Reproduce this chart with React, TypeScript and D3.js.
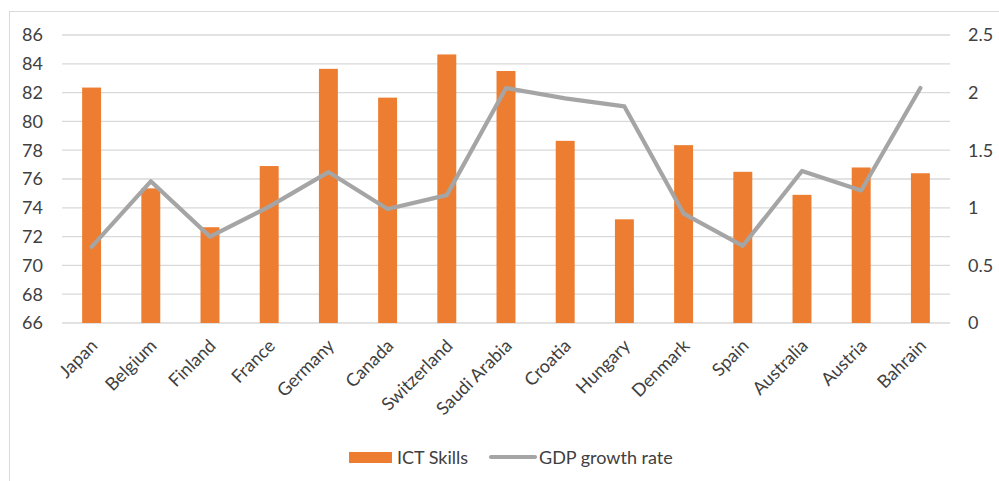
import React from "react";
import * as d3 from "d3";

const categories = ["Japan", "Belgium", "Finland", "France", "Germany", "Canada", "Switzerland", "Saudi Arabia", "Croatia", "Hungary", "Denmark", "Spain", "Australia", "Austria", "Bahrain"];
const ictSkills = [82.35, 75.35, 72.65, 76.9, 83.65, 81.65, 84.65, 83.5, 78.65, 73.2, 78.35, 76.5, 74.9, 76.8, 76.4];
const gdpGrowth = [0.66, 1.23, 0.75, 1.01, 1.31, 0.99, 1.11, 2.04, 1.95, 1.88, 0.95, 0.67, 1.32, 1.15, 2.04];
const leftTicks = [66, 68, 70, 72, 74, 76, 78, 80, 82, 84, 86];
const rightTicks = [0, 0.5, 1, 1.5, 2, 2.5];

const W = 999, H = 481;
const plot = { left: 62, right: 950, top: 35, bottom: 323 };
const FONT = "Lato, 'Open Sans', sans-serif";
const TEXT = "#404040";

export default function App() {
  const x = d3.scaleBand<string>().domain(categories).range([plot.left, plot.right]).paddingInner(0.68).paddingOuter(0.34);
  const yL = d3.scaleLinear().domain([66, 86]).range([plot.bottom, plot.top]);
  const yR = d3.scaleLinear().domain([0, 2.5]).range([plot.bottom, plot.top]);
  const cx = (c: string) => (x(c) as number) + x.bandwidth() / 2;
  const line = d3.line<number>().x((_, i) => cx(categories[i])).y((d) => yR(d));

  return (
    <div style={{ position: "absolute", left: 0, top: 0 }}>
      <svg width={W} height={H} style={{ display: "block", background: "#fff" }} fontFamily={FONT}>
        <rect x={9.5} y={11.5} width={1000} height={480} fill="#fff" stroke="#d9d9d9" />
        {leftTicks.map((t) => (
          <line key={t} x1={plot.left} x2={plot.right} y1={yL(t)} y2={yL(t)} stroke="#d9d9d9" strokeWidth={1.3} />
        ))}
        {leftTicks.map((t) => (
          <text key={"l" + t} x={43} y={yL(t)} dy="0.36em" textAnchor="end" fontSize={18} fill={TEXT}>{t}</text>
        ))}
        {rightTicks.map((t) => (
          <text key={"r" + t} x={968} y={yR(t)} dy="0.36em" textAnchor="start" fontSize={18} fill={TEXT}>{t}</text>
        ))}
        {categories.map((c, i) => (
          <rect key={c} x={x(c)} y={yL(ictSkills[i])} width={x.bandwidth()} height={yL(66) - yL(ictSkills[i])} fill="#ed7d31" />
        ))}
        <path d={line(gdpGrowth) || ""} fill="none" stroke="#a5a5a5" strokeWidth={4.2} strokeLinejoin="round" strokeLinecap="round" />
        {categories.map((c) => (
          <text key={"x" + c} transform={`translate(${cx(c) + 7},${plot.bottom + 24}) rotate(-45)`} textAnchor="end" fontSize={18} fill={TEXT}>{c}</text>
        ))}
        <rect x={349} y={452} width={43} height={11} fill="#ed7d31" />
        <text x={397} y={457.5} dy="0.36em" fontSize={18} fill={TEXT}>ICT Skills</text>
        <line x1={491} x2={535} y1={457} y2={457} stroke="#a5a5a5" strokeWidth={4.2} strokeLinecap="round" />
        <text x={539} y={457.5} dy="0.36em" fontSize={18} fill={TEXT}>GDP growth rate</text>
      </svg>
    </div>
  );
}
